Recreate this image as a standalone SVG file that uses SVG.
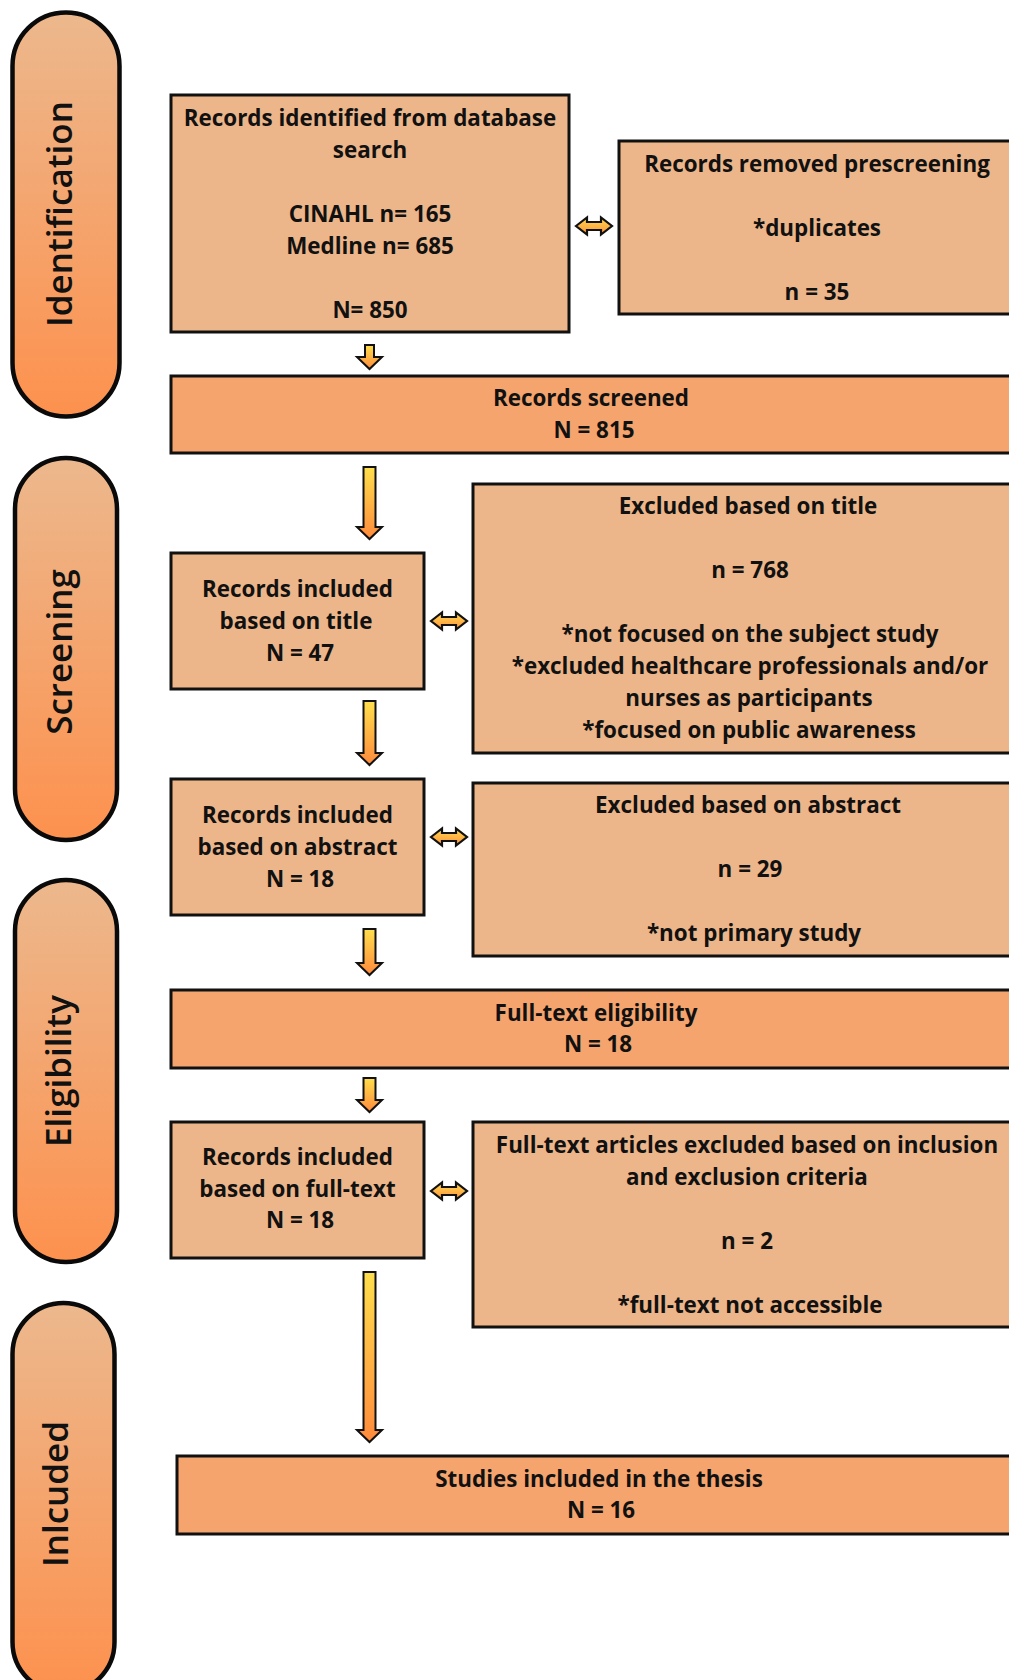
<svg xmlns="http://www.w3.org/2000/svg" width="1009" height="1680" viewBox="0 0 1009 1680">
  <defs>
    <linearGradient id="pillGrad" x1="0" y1="0" x2="0" y2="1">
      <stop offset="0" stop-color="#ECB88D"/>
      <stop offset="1" stop-color="#FD914E"/>
    </linearGradient>
    <linearGradient id="arrowGrad" x1="0" y1="0" x2="0" y2="1">
      <stop offset="0" stop-color="#FFDF4C"/>
      <stop offset="1" stop-color="#FF8A3C"/>
    </linearGradient>
    <linearGradient id="dblGrad" x1="0" y1="0" x2="0" y2="1">
      <stop offset="0" stop-color="#FFD84C"/>
      <stop offset="1" stop-color="#FF9440"/>
    </linearGradient>
  </defs>
  <style>
    .pill { fill: url(#pillGrad); stroke: #0a0a0a; stroke-width: 4.5; }
    .box { fill: #EDB68A; stroke: #111; stroke-width: 3; }
    .bar { fill: #F5A46E; stroke: #111; stroke-width: 3; }
    .t { font-family: "Open Sans", "Noto Sans", "Liberation Sans", sans-serif; font-weight: 700; font-size: 22.4px; fill: #111; text-anchor: middle; }
    .pt { font-family: "Open Sans", Lato, "Liberation Sans", sans-serif; font-weight: 600; font-size: 35px; fill: #111; text-anchor: middle; }
    .arr { fill: url(#arrowGrad); stroke: #111; stroke-width: 2; stroke-linejoin: miter; }
    .dbl { fill: url(#dblGrad); stroke: #111; stroke-width: 2.2; stroke-linejoin: miter; }
  </style>
  <rect width="1009" height="1680" fill="#ffffff"/>

  <!-- Phase pills -->
  <g id="pill-identification">
    <rect class="pill" x="12.5" y="12.5" width="107" height="404" rx="53.5" ry="53.5"/>
    <text class="pt" transform="translate(72,214) rotate(-90)">Identification</text>
  </g>
  <g id="pill-screening">
    <rect class="pill" x="15" y="458" width="102" height="382" rx="51" ry="51"/>
    <text class="pt" transform="translate(72,652) rotate(-90)">Screening</text>
  </g>
  <g id="pill-eligibility">
    <rect class="pill" x="15" y="880" width="102" height="382" rx="51" ry="51"/>
    <text class="pt" transform="translate(71,1071) rotate(-90)">Eligibility</text>
  </g>
  <g id="pill-included">
    <rect class="pill" x="12.5" y="1303" width="102" height="390" rx="51" ry="51"/>
    <text class="pt" transform="translate(68,1494) rotate(-90)">Inlcuded</text>
  </g>

  <!-- Nodes -->
  <g id="node-identified">
    <rect class="box" x="171" y="95" width="398" height="237"/>
    <text class="t" x="370" y="126">Records identified from database</text>
    <text class="t" x="370" y="158">search</text>
    <text class="t" x="370" y="222">CINAHL n= 165</text>
    <text class="t" x="370" y="254">Medline n= 685</text>
    <text class="t" x="370" y="318">N= 850</text>
  </g>
  <g id="node-removed">
    <rect class="box" x="619" y="141" width="400" height="173"/>
    <text class="t" x="817" y="172">Records removed prescreening</text>
    <text class="t" x="817" y="236">*duplicates</text>
    <text class="t" x="817" y="300">n = 35</text>
  </g>
  <g id="node-screened">
    <rect class="bar" x="171" y="376" width="848" height="77"/>
    <text class="t" x="591" y="406">Records screened</text>
    <text class="t" x="594" y="438">N = 815</text>
  </g>
  <g id="node-title">
    <rect class="box" x="171" y="553" width="253" height="136"/>
    <text class="t" x="297.5" y="597">Records included</text>
    <text class="t" x="296" y="629">based on title</text>
    <text class="t" x="300" y="661">N = 47</text>
  </g>
  <g id="node-excl-title">
    <rect class="box" x="473" y="484" width="550" height="269"/>
    <text class="t" x="748" y="514">Excluded based on title</text>
    <text class="t" x="750" y="578">n = 768</text>
    <text class="t" x="750" y="642">*not focused on the subject study</text>
    <text class="t" x="750" y="674">*excluded healthcare professionals and/or</text>
    <text class="t" x="749" y="706">nurses as participants</text>
    <text class="t" x="749" y="738">*focused on public awareness</text>
  </g>
  <g id="node-abstract">
    <rect class="box" x="171" y="779" width="253" height="136"/>
    <text class="t" x="297.5" y="823">Records included</text>
    <text class="t" x="297.5" y="855">based on abstract</text>
    <text class="t" x="300" y="887">N = 18</text>
  </g>
  <g id="node-excl-abstract">
    <rect class="box" x="473" y="783" width="550" height="173"/>
    <text class="t" x="748" y="813">Excluded based on abstract</text>
    <text class="t" x="750" y="877">n = 29</text>
    <text class="t" x="754" y="941">*not primary study</text>
  </g>
  <g id="node-fulltext-elig">
    <rect class="bar" x="171" y="990" width="848" height="78"/>
    <text class="t" x="596" y="1021">Full-text eligibility</text>
    <text class="t" x="598" y="1052">N = 18</text>
  </g>
  <g id="node-fulltext">
    <rect class="box" x="171" y="1122" width="253" height="136"/>
    <text class="t" x="297.5" y="1165">Records included</text>
    <text class="t" x="297.5" y="1197">based on full-text</text>
    <text class="t" x="300" y="1228">N = 18</text>
  </g>
  <g id="node-excl-fulltext">
    <rect class="box" x="473" y="1122" width="550" height="205"/>
    <text class="t" x="747" y="1153">Full-text articles excluded based on inclusion</text>
    <text class="t" x="747" y="1185">and exclusion criteria</text>
    <text class="t" x="747" y="1249">n = 2</text>
    <text class="t" x="750" y="1313">*full-text not accessible</text>
  </g>
  <g id="node-included">
    <rect class="bar" x="177" y="1456" width="842" height="78"/>
    <text class="t" x="599" y="1487">Studies included in the thesis</text>
    <text class="t" x="601" y="1518">N = 16</text>
  </g>

  <!-- Connectors -->
  <g id="connectors">
    <path class="arr" d="M365,345 L374,345 L374,357 L382,357 L369.5,369 L357,357 L365,357 Z"/>
    <path class="arr" d="M363.5,467 L375.5,467 L375.5,527 L382,527 L369.5,539 L357,527 L363.5,527 Z"/>
    <path class="arr" d="M363.5,701 L375.5,701 L375.5,753 L382,753 L369.5,765 L357,753 L363.5,753 Z"/>
    <path class="arr" d="M363.5,929 L375.5,929 L375.5,963 L382,963 L369.5,975 L357,963 L363.5,963 Z"/>
    <path class="arr" d="M363.5,1078 L375.5,1078 L375.5,1100 L382,1100 L369.5,1112 L357,1100 L363.5,1100 Z"/>
    <path class="arr" d="M363.5,1272 L375.5,1272 L375.5,1430 L382,1430 L369.5,1442 L357,1430 L363.5,1430 Z"/>

    <path class="dbl" d="M576,226 L587,217.5 L587,222 L601,222 L601,217.5 L612,226 L601,234.5 L601,230 L587,230 L587,234.5 Z"/>
    <path class="dbl" d="M431,621 L442,612.5 L442,617 L456,617 L456,612.5 L467,621 L456,629.5 L456,625 L442,625 L442,629.5 Z"/>
    <path class="dbl" d="M431,837 L442,828.5 L442,833 L456,833 L456,828.5 L467,837 L456,845.5 L456,841 L442,841 L442,845.5 Z"/>
    <path class="dbl" d="M431,1191 L442,1182.5 L442,1187 L456,1187 L456,1182.5 L467,1191 L456,1199.5 L456,1195 L442,1195 L442,1199.5 Z"/>
  </g>
</svg>
